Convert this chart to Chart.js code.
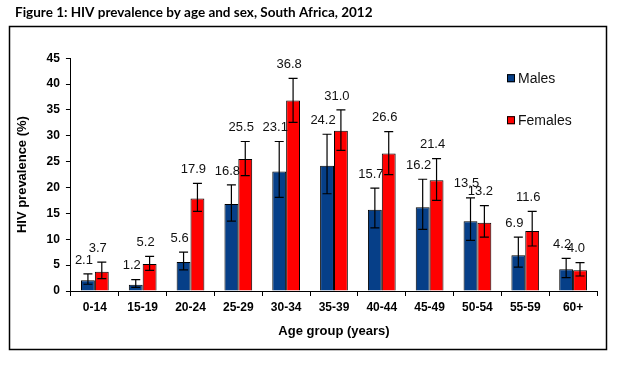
<!DOCTYPE html>
<html>
<head>
<meta charset="utf-8">
<script src="https://cdn.jsdelivr.net/npm/chart.js@4"></script>
<style>
  html, body { margin: 0; padding: 0; background: #fff; }
  #wrap { position: relative; width: 637px; height: 366px; }
</style>
</head>
<body>
<div id="wrap"><canvas id="hivChart" width="637" height="366"></canvas></div>
<script>
// ---------- data ----------
const ageGroups = ["0-14","15-19","20-24","25-29","30-34","35-39","40-44","45-49","50-54","55-59","60+"];
const males   = [2.1, 1.2, 5.6, 16.8, 23.1, 24.2, 15.7, 16.2, 13.5, 6.9, 4.2];
const females = [3.7, 5.2, 17.9, 25.5, 36.8, 31.0, 26.6, 21.4, 13.2, 11.6, 4.0];

// 95% CI
const malesLow    = [1.3, 0.7, 4.1, 13.5, 18.1, 18.8, 12.2, 11.9, 9.8, 4.6, 2.6];
const malesHigh   = [3.3, 2.2, 7.5, 20.5, 28.9, 30.3, 19.9, 21.6, 18.0, 10.4, 6.3];
const femalesLow  = [2.4, 4.0, 15.4, 22.3, 32.6, 27.2, 22.5, 17.5, 10.4, 8.7, 2.9];
const femalesHigh = [5.6, 6.7, 20.8, 28.9, 41.1, 35.0, 30.8, 25.6, 16.5, 15.4, 5.5];

const yTicks = [0, 5, 10, 15, 20, 25, 30, 35, 40, 45];

const errLow  = [malesLow, femalesLow];
const errHigh = [malesHigh, femalesHigh];

// outer frame round the plot
const framePlugin = {
    id: "frame",
    beforeDraw(chart) {
        const ctx = chart.ctx;
        ctx.save();
        ctx.strokeStyle = "#000";
        ctx.lineWidth = 1.5;
        ctx.strokeRect(9.5, 26.5, 597, 323);
        ctx.restore();
    }
};

// error bars + value labels
const errorBarPlugin = {
    id: "errorBars",
    afterDatasetsDraw(chart) {
        const ctx = chart.ctx;
        const y = chart.scales.y;
        ctx.save();
        chart.data.datasets.forEach((ds, di) => {
            const meta = chart.getDatasetMeta(di);
            meta.data.forEach((bar, i) => {
                const yl = y.getPixelForValue(errLow[di][i]);
                const yh = y.getPixelForValue(errHigh[di][i]);
                ctx.strokeStyle = "#000";
                ctx.lineWidth = 1.2;
                ctx.beginPath();
                ctx.moveTo(bar.x, yl); ctx.lineTo(bar.x, yh);
                ctx.moveTo(bar.x - 4.5, yl); ctx.lineTo(bar.x + 4.5, yl);
                ctx.moveTo(bar.x - 4.5, yh); ctx.lineTo(bar.x + 4.5, yh);
                ctx.stroke();

                ctx.fillStyle = "#111";
                ctx.font = "13px 'Liberation Sans', Arial, sans-serif";
                ctx.textAlign = "center";
                ctx.textBaseline = "middle";
                ctx.fillText(ds.data[i].toFixed(1), bar.x - 4, yh - 14);
            });
        });
        ctx.restore();
    }
};

// legend sitting inside the plot, top right
const legendPlugin = {
    id: "innerLegend",
    afterDraw(chart) {
        const ctx = chart.ctx;
        const a = chart.chartArea;
        ctx.save();
        ctx.font = "14px 'Liberation Sans', Arial, sans-serif";
        ctx.textBaseline = "middle";
        ctx.textAlign = "left";
        chart.data.datasets.forEach((ds, i) => {
            const x = a.right - 90;
            const yc = a.top + 20 + i * 42;
            ctx.fillStyle = ds.backgroundColor;
            ctx.fillRect(x, yc - 4, 8, 8);
            ctx.strokeStyle = "#000";
            ctx.lineWidth = 1;
            ctx.strokeRect(x + 0.5, yc - 3.5, 7, 7);
            ctx.fillStyle = "#111";
            ctx.fillText(ds.label, x + 11, yc + 1);
        });
        ctx.restore();
    }
};

const ctx = document.getElementById("hivChart");
new Chart(ctx, {
    type: "bar",
    data: {
        labels: ageGroups,
        datasets: [
            {
                label: "Males",
                data: males,
                backgroundColor: "#063f88",
                borderColor: "#000",
                borderWidth: 1,
                barPercentage: 1,
                categoryPercentage: 0.58
            },
            {
                label: "Females",
                data: females,
                backgroundColor: "#ff0000",
                borderColor: "#000",
                borderWidth: 1,
                barPercentage: 1,
                categoryPercentage: 0.58
            }
        ]
    },
    options: {
        responsive: false,
        animation: false,
        devicePixelRatio: 1,
        layout: {
            padding: { left: 15, right: 40, top: 0, bottom: 27 }
        },
        plugins: {
            legend: { display: false },
            tooltip: { enabled: false },
            title: {
                display: true,
                text: "Figure 1: HIV prevalence by age and sex, South Africa, 2012",
                align: "start",
                color: "#000",
                font: { family: "Lato, sans-serif", size: 13.5, weight: "bold" },
                padding: { top: 5, bottom: 37 }
            }
        },
        scales: {
            x: {
                grid: {
                    offset: true,
                    drawOnChartArea: false,
                    drawTicks: true,
                    tickLength: 5,
                    color: "#000"
                },
                border: { display: true, color: "#000", width: 1 },
                ticks: {
                    color: "#000",
                    padding: 4,
                    maxRotation: 0,
                    font: { family: "'Liberation Sans', Arial, sans-serif", size: 12, weight: "bold" }
                },
                title: {
                    display: true,
                    text: "Age group (years)",
                    color: "#000",
                    padding: { top: 5, bottom: 0 },
                    font: { family: "'Liberation Sans', Arial, sans-serif", size: 13, weight: "bold" }
                }
            },
            y: {
                min: 0,
                max: 45,
                afterBuildTicks(scale) {
                    scale.ticks = yTicks.map(v => ({ value: v }));
                },
                grid: {
                    drawOnChartArea: false,
                    drawTicks: true,
                    tickLength: 5,
                    color: "#000"
                },
                border: { display: true, color: "#000", width: 1 },
                ticks: {
                    color: "#000",
                    padding: 6,
                    font: { family: "'Liberation Sans', Arial, sans-serif", size: 12, weight: "bold" }
                },
                title: {
                    display: true,
                    text: "HIV prevalence (%)",
                    color: "#000",
                    padding: { top: 0, bottom: 10 },
                    font: { family: "'Liberation Sans', Arial, sans-serif", size: 13, weight: "bold" }
                }
            }
        }
    },
    plugins: [framePlugin, errorBarPlugin, legendPlugin]
});
</script>
</body>
</html>
